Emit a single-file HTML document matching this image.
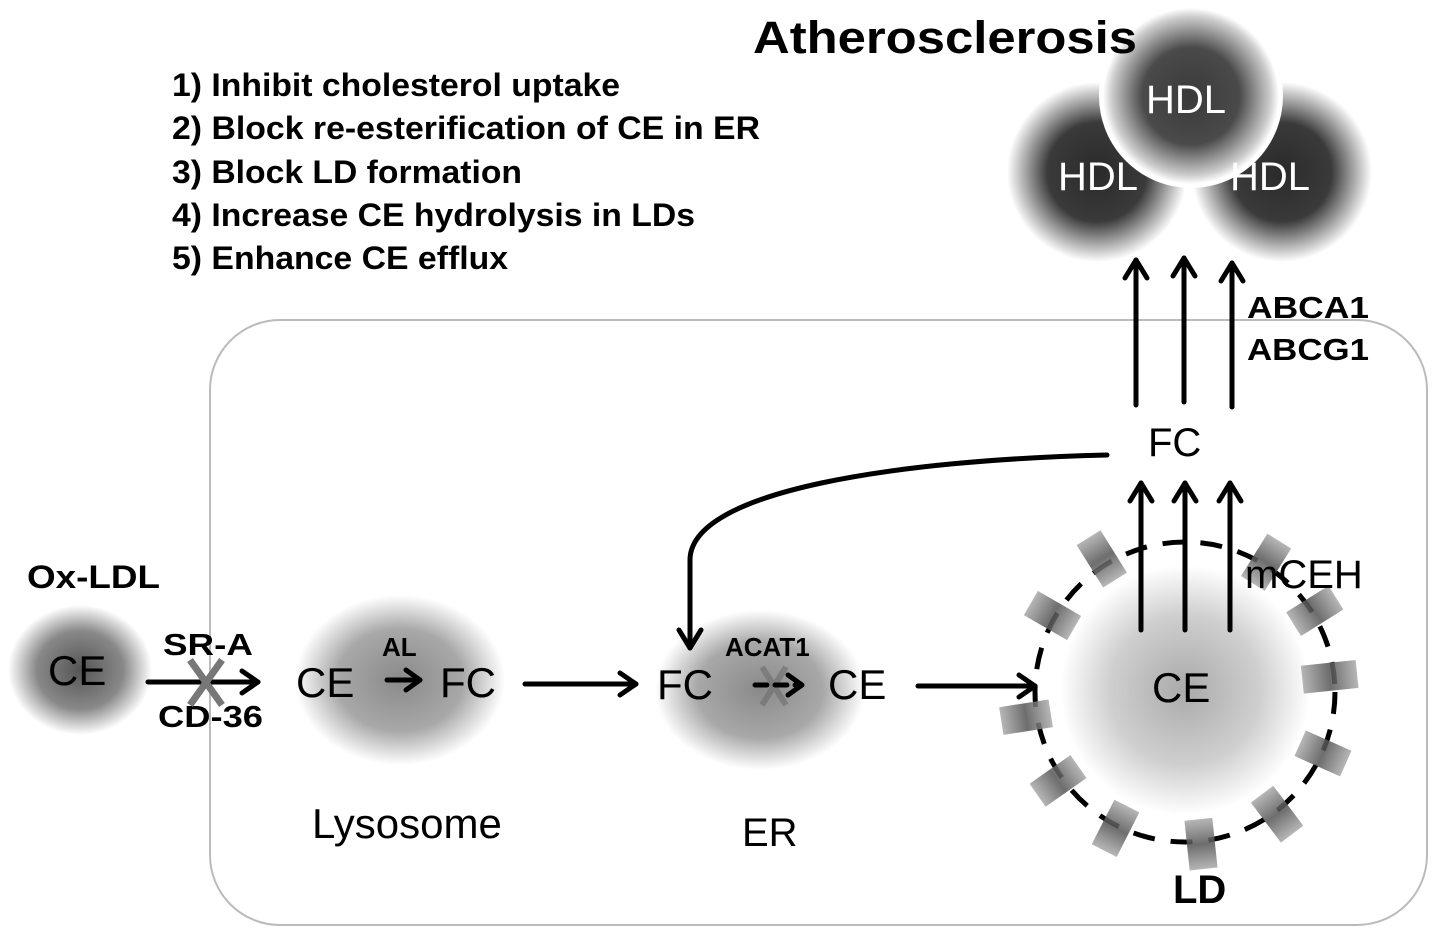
<!DOCTYPE html>
<html><head><meta charset="utf-8"><style>
html,body{margin:0;padding:0;background:#fff;}
svg{display:block;}
text{font-family:"Liberation Sans Narrow","Liberation Sans",sans-serif;}
.w{font-family:"Liberation Sans",sans-serif;}
</style></head><body>
<svg width="1441" height="940" viewBox="0 0 1441 940" xmlns="http://www.w3.org/2000/svg">
<defs>
<radialGradient id="g1"><stop offset="0" stop-color="#555"/><stop offset="0.6" stop-color="#888"/><stop offset="1" stop-color="#fff"/></radialGradient>
<radialGradient id="g2"><stop offset="0" stop-color="#8a8a8a"/><stop offset="0.6" stop-color="#a8a8a8"/><stop offset="1" stop-color="#fff"/></radialGradient>
<radialGradient id="gld"><stop offset="0" stop-color="#aaa"/><stop offset="0.6" stop-color="#cfcfcf"/><stop offset="1" stop-color="#fff"/></radialGradient>
<radialGradient id="ghdl"><stop offset="0" stop-color="#2a2a2a"/><stop offset="0.55" stop-color="#3a3a3a"/><stop offset="1" stop-color="#fff"/></radialGradient>
<radialGradient id="ghdl2"><stop offset="0" stop-color="#3a3a3a"/><stop offset="0.55" stop-color="#4a4a4a"/><stop offset="0.9" stop-color="#ccc"/><stop offset="1" stop-color="#fff"/></radialGradient>
<linearGradient id="gp" x1="0" x2="1"><stop offset="0" stop-color="#aaa"/><stop offset="0.5" stop-color="#555"/><stop offset="1" stop-color="#aaa"/></linearGradient>
</defs>

<rect x="210" y="320" width="1217" height="605" rx="70" fill="none" stroke="#bbb" stroke-width="2"/>

<g font-size="32" font-weight="bold">
<text x="172" y="96" textLength="448" lengthAdjust="spacingAndGlyphs">1) Inhibit cholesterol uptake</text>
<text x="172" y="139" textLength="588" lengthAdjust="spacingAndGlyphs">2) Block re-esterification of CE in ER</text>
<text x="172" y="183" textLength="350" lengthAdjust="spacingAndGlyphs">3) Block LD formation</text>
<text x="172" y="226" textLength="523" lengthAdjust="spacingAndGlyphs">4) Increase CE hydrolysis in LDs</text>
<text x="172" y="269" textLength="336" lengthAdjust="spacingAndGlyphs">5) Enhance CE efflux</text>
</g>

<circle cx="1097" cy="172" r="90" fill="url(#ghdl)"/>
<circle cx="1282" cy="172" r="90" fill="url(#ghdl)"/>
<circle cx="1191" cy="96" r="92" fill="#fff"/>
<circle cx="1191" cy="96" r="88" fill="url(#ghdl2)"/>
<text class="w" x="1146" y="113" font-size="40" fill="#fff">HDL</text>
<text class="w" x="1058" y="190" font-size="40" fill="#fff">HDL</text>
<text class="w" x="1230" y="190" font-size="40" fill="#fff">HDL</text>
<text x="753" y="53" font-size="45" font-weight="bold" textLength="384" lengthAdjust="spacingAndGlyphs">Atherosclerosis</text>

<ellipse cx="80" cy="670" rx="72" ry="65" fill="url(#g1)"/>
<ellipse cx="400" cy="680" rx="105" ry="85" fill="url(#g2)"/>
<ellipse cx="760" cy="690" rx="105" ry="80" fill="url(#g2)"/>
<circle cx="1185" cy="690" r="125" fill="url(#gld)"/>

<circle cx="1185" cy="692" r="150" fill="none" stroke="#000" stroke-width="5" stroke-dasharray="22 16"/>
<g fill="url(#gp)" opacity="0.85">
<g transform="translate(1185,692)">
<rect x="136" y="-14" width="50" height="28" transform="rotate(171)"/>
<rect x="130" y="-14" width="50" height="28" transform="rotate(145)"/>
<rect x="128" y="-14" width="50" height="28" transform="rotate(117)"/>
<rect x="128" y="-14" width="50" height="28" transform="rotate(84)"/>
<rect x="128" y="-14" width="50" height="28" transform="rotate(53)"/>
<rect x="126" y="-14" width="50" height="28" transform="rotate(24)"/>
<rect x="118" y="-14" width="55" height="28" transform="rotate(-6)"/>
<rect x="128" y="-14" width="50" height="28" transform="rotate(-32)"/>
<rect x="128" y="-14" width="50" height="28" transform="rotate(-58)"/>
<rect x="128" y="-14" width="50" height="28" transform="rotate(-150)"/>
<rect x="132" y="-14" width="50" height="28" transform="rotate(-122)"/>
</g>
</g>

<g stroke="#666" stroke-width="6" opacity="0.5"><line x1="762" y1="667" x2="786" y2="705"/><line x1="786" y1="667" x2="762" y2="705"/></g>

<g stroke="#000" stroke-width="5" fill="none" stroke-linecap="round" stroke-linejoin="round">
<line x1="1136" y1="405" x2="1136" y2="260"/><path d="M1125,278 L1136,260 L1147,278"/>
<line x1="1184" y1="402" x2="1184" y2="258"/><path d="M1173,276 L1184,258 L1195,276"/>
<line x1="1232" y1="407" x2="1232" y2="263"/><path d="M1221,281 L1232,263 L1243,281"/>
<line x1="1141" y1="630" x2="1141" y2="483"/><path d="M1130,501 L1141,483 L1152,501"/>
<line x1="1185" y1="630" x2="1185" y2="483"/><path d="M1174,501 L1185,483 L1196,501"/>
<line x1="1230" y1="630" x2="1230" y2="483"/><path d="M1219,501 L1230,483 L1241,501"/>
<path d="M1107,455 C900,460 690,490 690,560 L690,648"/><path d="M679,630 L690,648 L701,630"/>
<line x1="148" y1="682" x2="258" y2="682"/><path d="M242,671 L258,682 L242,693"/>
<line x1="387" y1="680" x2="420" y2="680"/><path d="M406,670 L420,680 L406,690"/>
<line x1="755" y1="685" x2="800" y2="685" stroke-dasharray="12 8"/><path d="M788,675 L802,685 L788,695"/>
<line x1="525" y1="684" x2="636" y2="684"/><path d="M620,673 L636,684 L620,695"/>
<line x1="918" y1="686" x2="1035" y2="686"/><path d="M1019,675 L1035,686 L1019,697"/>
</g>
<text x="1247" y="318" font-size="31" font-weight="bold" textLength="122" lengthAdjust="spacingAndGlyphs">ABCA1</text>
<text x="1247" y="360" font-size="31" font-weight="bold" textLength="122" lengthAdjust="spacingAndGlyphs">ABCG1</text>
<text class="w" x="1148" y="456" font-size="40">FC</text>

<text class="w" x="1245" y="588" font-size="40">mCEH</text>
<text class="w" x="1152" y="702" font-size="42">CE</text>
<text class="w" x="1173" y="903" font-size="40" font-weight="bold">LD</text>

<text x="27" y="588" font-size="32" font-weight="bold" textLength="133" lengthAdjust="spacingAndGlyphs">Ox-LDL</text>
<text class="w" x="48" y="685" font-size="42">CE</text>
<text x="163" y="655" font-size="31" font-weight="bold" textLength="90" lengthAdjust="spacingAndGlyphs">SR-A</text>
<text x="158" y="727" font-size="31" font-weight="bold" textLength="105" lengthAdjust="spacingAndGlyphs">CD-36</text>
<g stroke="#777" stroke-width="7"><line x1="190" y1="660" x2="222" y2="705"/><line x1="222" y1="660" x2="190" y2="705"/></g>

<text class="w" x="296" y="697" font-size="42">CE</text>
<text x="382" y="656" font-size="26" font-weight="bold">AL</text>
<text class="w" x="440" y="697" font-size="42">FC</text>
<text class="w" x="312" y="838" font-size="42">Lysosome</text>

<text class="w" x="657" y="699" font-size="42">FC</text>
<text x="725" y="656" font-size="26" font-weight="bold">ACAT1</text>
<text class="w" x="828" y="699" font-size="42">CE</text>
<text class="w" x="742" y="846" font-size="40">ER</text>
</svg>
</body></html>
